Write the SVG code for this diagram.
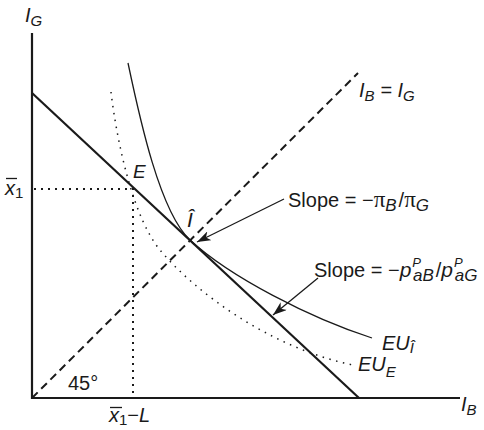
<svg xmlns="http://www.w3.org/2000/svg" width="484" height="430" viewBox="0 0 484 430">
<style>
text{font-family:"Liberation Sans",Arial,sans-serif;fill:#1a1a1a}
.it{font-style:italic}
.lbl{font-size:20px}
.sub{font-size:15px}
.ssub{font-size:17px}
.sup{font-size:13px}
.sym{font-family:"Liberation Serif","Times New Roman",serif;font-style:normal;font-size:23px}
.axis{stroke:#1a1a1a;stroke-width:2.2;fill:none}
.thick{stroke:#1a1a1a;stroke-width:2.2;fill:none}
.thin{stroke:#1a1a1a;stroke-width:1.3;fill:none}
.dash{stroke:#1a1a1a;stroke-width:2;fill:none;stroke-dasharray:8,5}
.dot{stroke:#1a1a1a;stroke-width:2;fill:none;stroke-dasharray:2,5}
.fdot{stroke:#1a1a1a;stroke-width:1.5;fill:none;stroke-dasharray:1.5,5.5}
.arr{stroke:#1a1a1a;stroke-width:1.3;fill:none;marker-end:url(#ah)}
</style>
<defs>
<marker id="ah" markerUnits="userSpaceOnUse" markerWidth="16" markerHeight="10" refX="14" refY="5" orient="auto">
<path d="M0,0 L14,5 L0,10 L4,5 Z" fill="#1a1a1a"/>
</marker>
</defs>
<g id="axes">
<path class="axis" d="M32,33 V398 H460"/>
<text class="lbl it" x="25" y="22">I<tspan class="sub" dy="4">G</tspan></text>
<text class="lbl it" x="461" y="411">I<tspan class="sub" dy="4">B</tspan></text>
</g>
<g id="budget-line">
<path class="thick" d="M32,93 L359,398"/>
</g>
<g id="diagonal">
<path class="dash" d="M32,398 L358,73"/>
<text class="lbl it" x="359" y="97">I<tspan class="sub" dy="4">B</tspan><tspan dy="-4"> = </tspan><tspan>I</tspan><tspan class="sub" dy="4">G</tspan></text>
<text class="lbl" x="68" y="390">45°</text>
</g>
<g id="point-E">
<path class="dot" d="M34,189 H133 V396"/>
<text class="lbl it" x="133" y="178" style="font-size:19px">E</text>
<text class="lbl" x="5" y="195"><tspan class="it">x</tspan><tspan class="sub" dy="3">1</tspan></text>
<path d="M6,178.5 H17" stroke="#1a1a1a" stroke-width="1.3"/>
<text class="lbl" x="109" y="422"><tspan class="it">x</tspan><tspan class="sub" dy="3">1</tspan><tspan dy="-3">−</tspan><tspan class="it">L</tspan></text>
<path d="M110,407.5 H122" stroke="#1a1a1a" stroke-width="1.3"/>
</g>
<g id="point-I">
<text class="lbl it" x="187" y="227" style="font-size:21px">Î</text>
</g>
<g id="curve-EU-I">
<path class="thin" d="M128,63 C140,120 160,212 190,240 C230,277 310,318 372,338"/>
<text class="lbl it" x="382" y="350">EU<tspan class="sub" dy="3">Î</tspan></text>
</g>
<g id="curve-EU-E">
<path class="fdot" d="M111,92 C118,150 135,220 160,250 C195,292 270,348 353,365"/>
<text class="lbl it" x="358" y="371">EU<tspan class="sub" dy="6">E</tspan></text>
</g>
<g id="connectors">
<path class="arr" d="M284,199 L197,242"/>
<path class="arr" d="M318,278 L273,315"/>
</g>
<g id="label-slope1">
<text class="lbl" x="288" y="207">Slope = −<tspan class="sym">π</tspan><tspan class="ssub it" dy="4">B</tspan><tspan dy="-4" dx="2">/</tspan><tspan class="sym">π</tspan><tspan class="ssub it" dy="4">G</tspan></text>
</g>
<g id="label-slope2">
<text class="lbl" x="314" y="277">Slope = −<tspan class="it" style="font-size:21px">p</tspan><tspan class="sup it" dx="1" dy="-10">P</tspan><tspan class="ssub it" dx="-8" dy="14">aB</tspan><tspan dy="-4" dx="2">/</tspan><tspan class="it" style="font-size:21px">p</tspan><tspan class="sup it" dx="1" dy="-10">P</tspan><tspan class="ssub it" dx="-8" dy="14">aG</tspan></text>
</g>
</svg>
